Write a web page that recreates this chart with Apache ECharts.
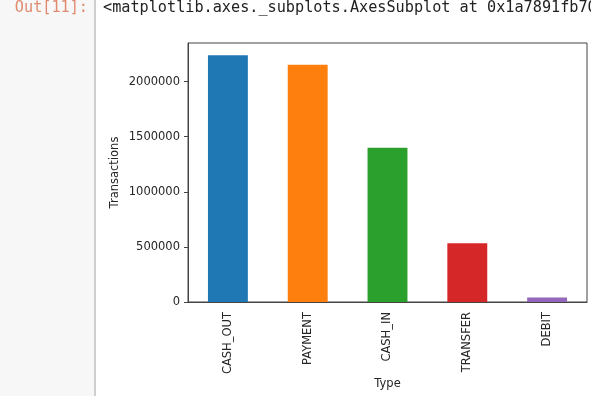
<!DOCTYPE html>
<html>
<head>
<meta charset="utf-8">
<script src="https://cdn.jsdelivr.net/npm/echarts@6/dist/echarts.min.js"></script>
<style>html,body{margin:0;padding:0;background:#fff}#c{width:591px;height:396px}</style>
</head>
<body>
<div id="c"></div>
<script>
var categories = ['CASH_OUT', 'PAYMENT', 'CASH_IN', 'TRANSFER', 'DEBIT'];
var transactions = [2237500, 2151495, 1399284, 532909, 41432];
var barColors = ['#1f77b4', '#ff7f0e', '#2ca02c', '#d62728', '#9467bd'];
var yTicks = [0, 500000, 1000000, 1500000, 2000000];
var yMax = 2349375;

var chart = echarts.init(document.getElementById('c'), null, {renderer: 'canvas'});
var font = 'DejaVu Sans';
var fs = 11.5;
chart.setOption({
  animation: false,
  backgroundColor: '#fff',
  graphic: [
    {type: 'rect', shape: {x: 0, y: 0, width: 94, height: 396}, style: {fill: '#f7f7f7'}, z: -10},
    {type: 'rect', shape: {x: 94, y: 0, width: 2, height: 396}, style: {fill: '#cfcfcf'}, z: -10},
    {type: 'text', x: 88, y: 1, style: {text: 'Out[11]:', fill: '#e08a70', font: '15.2px "DejaVu Sans Mono"', textAlign: 'right', textVerticalAlign: 'top'}},
    {type: 'text', x: 103, y: 1, style: {text: '<matplotlib.axes._subplots.AxesSubplot at 0x1a7891fb70>', fill: '#222', font: '15.2px "DejaVu Sans Mono"', textAlign: 'left', textVerticalAlign: 'top'}}
  ],
  grid: {left: 188, right: 4, top: 43, bottom: 94, outerBoundsMode: 'none', containLabel: false, show: true, borderColor: '#444', borderWidth: 1, backgroundColor: '#fff'},
  xAxis: {
    type: 'category',
    data: categories,
    name: 'Type',
    nameLocation: 'middle',
    nameGap: 76,
    nameMoveOverlap: false,
    nameTextStyle: {fontFamily: font, fontSize: fs, color: '#262626'},
    axisLine: {lineStyle: {color: '#444'}},
    axisTick: {alignWithLabel: true, length: 4, lineStyle: {color: '#444'}},
    axisLabel: {rotate: 90, fontFamily: font, fontSize: fs, color: '#262626', margin: 10}
  },
  yAxis: {
    type: 'value',
    min: 0,
    max: yMax,
    name: 'Transactions',
    nameLocation: 'middle',
    nameGap: 67,
    nameMoveOverlap: false,
    nameTextStyle: {fontFamily: font, fontSize: fs, color: '#262626'},
    splitLine: {show: false},
    axisLine: {show: true, lineStyle: {color: '#444'}},
    axisTick: {show: true, length: 4, customValues: yTicks, lineStyle: {color: '#444'}},
    axisLabel: {customValues: yTicks, formatter: function (v) { return String(v); }, fontFamily: font, fontSize: fs, color: '#262626', margin: 8}
  },
  series: [{
    type: 'bar',
    barWidth: '50%',
    data: transactions.map(function (v, i) { return {value: v, itemStyle: {color: barColors[i]}}; })
  }]
});
</script>
</body>
</html>
